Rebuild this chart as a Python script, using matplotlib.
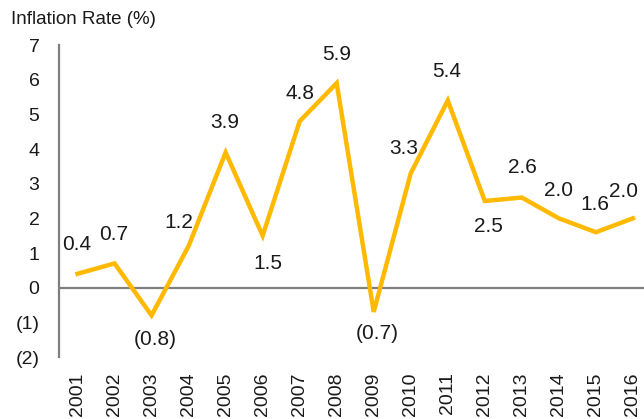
import matplotlib
matplotlib.use("Agg")
import matplotlib.pyplot as plt

LINE_COLOR = "#FFB900"
AXIS_COLOR = "#7F7F7F"
TEXT_COLOR = "#1a1a1a"

years = [str(y) for y in range(2001, 2017)]
inflation = [0.4, 0.7, -0.8, 1.2, 3.9, 1.5, 4.8, 5.9, -0.7, 3.3, 5.4, 2.5, 2.6, 2.0, 1.6, 2.0]
y_ticks = [-2, -1, 0, 1, 2, 3, 4, 5, 6, 7]

# label offsets in pixels (dx, dy) relative to each point
label_offsets = [(-1, 29), (-1, 29), (4, -24), (-10, 24), (-1, 30), (5, -28),
                 (0, 28), (0, 29), (4, -22), (-7, 25), (-1, 29), (4, -25),
                 (1, 30), (0, 28), (-1, 28), (-9, 27)]


def fmt(v, digits=1):
    s = f"{abs(v):.{digits}f}"
    return f"({s})" if v < 0 else s


plt.rcParams["font.family"] = ["Liberation Sans", "DejaVu Sans"]

fig = plt.figure(figsize=(6.44, 4.19), dpi=100)
ax = fig.add_axes([59 / 644, 62 / 419, 1 - 59 / 644, (357 - 45) / 419])

x = list(range(len(years)))
ax.plot(x, inflation, color=LINE_COLOR, linewidth=3.2, solid_joinstyle="miter", zorder=3)
ax.axhline(0, color=AXIS_COLOR, linewidth=1.6, zorder=2)

px = 0.72  # points per pixel at 100 dpi
for xi, v, (dx, dy) in zip(x, inflation, label_offsets):
    ax.annotate(fmt(v), (xi, v), xytext=(dx * px, dy * px), textcoords="offset points",
                ha="center", va="center", fontsize=15, color=TEXT_COLOR)

ax.set_xlim(-0.5, 15.3)
ax.set_ylim(-2, 7)
ax.set_xticks(x)
ax.set_xticklabels(years, rotation=90, fontsize=14, color=TEXT_COLOR)
ax.set_yticks(y_ticks)
ax.set_yticklabels([fmt(t, 0) for t in y_ticks], fontsize=14, color=TEXT_COLOR)
ax.tick_params(axis="both", length=0)
ax.tick_params(axis="y", pad=14)
ax.tick_params(axis="x", pad=11)

for side in ["top", "right", "bottom"]:
    ax.spines[side].set_visible(False)
ax.spines["left"].set_color(AXIS_COLOR)
ax.spines["left"].set_linewidth(1.6)

fig.text(11 / 644, 1 - 20 / 419, "Inflation Rate (%)", ha="left", va="center",
         fontsize=13.5, color=TEXT_COLOR)

fig.savefig("out.png", dpi=100)
